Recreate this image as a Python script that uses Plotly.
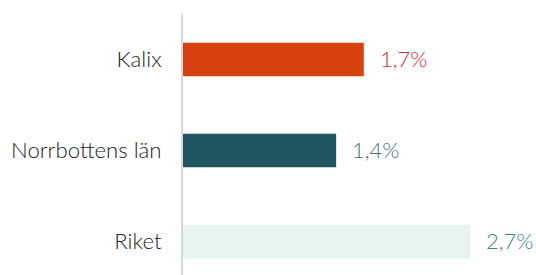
import plotly.graph_objects as go

categories = ["Kalix", "Norrbottens län", "Riket"]
values = [1.7, 1.44, 2.7]
bar_colors = ["#D7400F", "#215660", "#E5F4F0"]
label_colors = ["#D42A30", "#3F7478", "#418285"]

FONT = "Lato"

fig = go.Figure()
fig.add_trace(go.Bar(
    x=values, y=categories, orientation="h",
    marker=dict(color=bar_colors, line=dict(width=0)),
    width=0.37,
    hoverinfo="skip",
))

for c, v, col in zip(categories, values, label_colors):
    fig.add_annotation(
        x=v, y=c, xref="x", yref="y",
        text=f"{v:.1f}%".replace(".", ","),
        showarrow=False, xanchor="left", yanchor="middle",
        xshift=14, yshift=1,
        font=dict(family=FONT, size=22, color=col, weight=300),
    )

fig.update_layout(
    width=536, height=275,
    margin=dict(l=183, r=2, t=14, b=0, autoexpand=False),
    paper_bgcolor="white", plot_bgcolor="white",
    showlegend=False,
    xaxis=dict(range=[0, 3.3], visible=False, fixedrange=True, automargin=False),
    yaxis=dict(
        categoryorder="array", categoryarray=categories,
        range=[2.368, -0.5],
        showline=True, linecolor="#D9D9D9", linewidth=2,
        showgrid=False, zeroline=False, automargin=False,
        ticks="", ticklabelstandoff=15,
        tickfont=dict(family=FONT, size=22.2, color="#222222", weight=300),
        fixedrange=True,
    ),
)

fig.write_html("out.html", config={"displayModeBar": False},
               post_script="document.body.style.margin='0';")
